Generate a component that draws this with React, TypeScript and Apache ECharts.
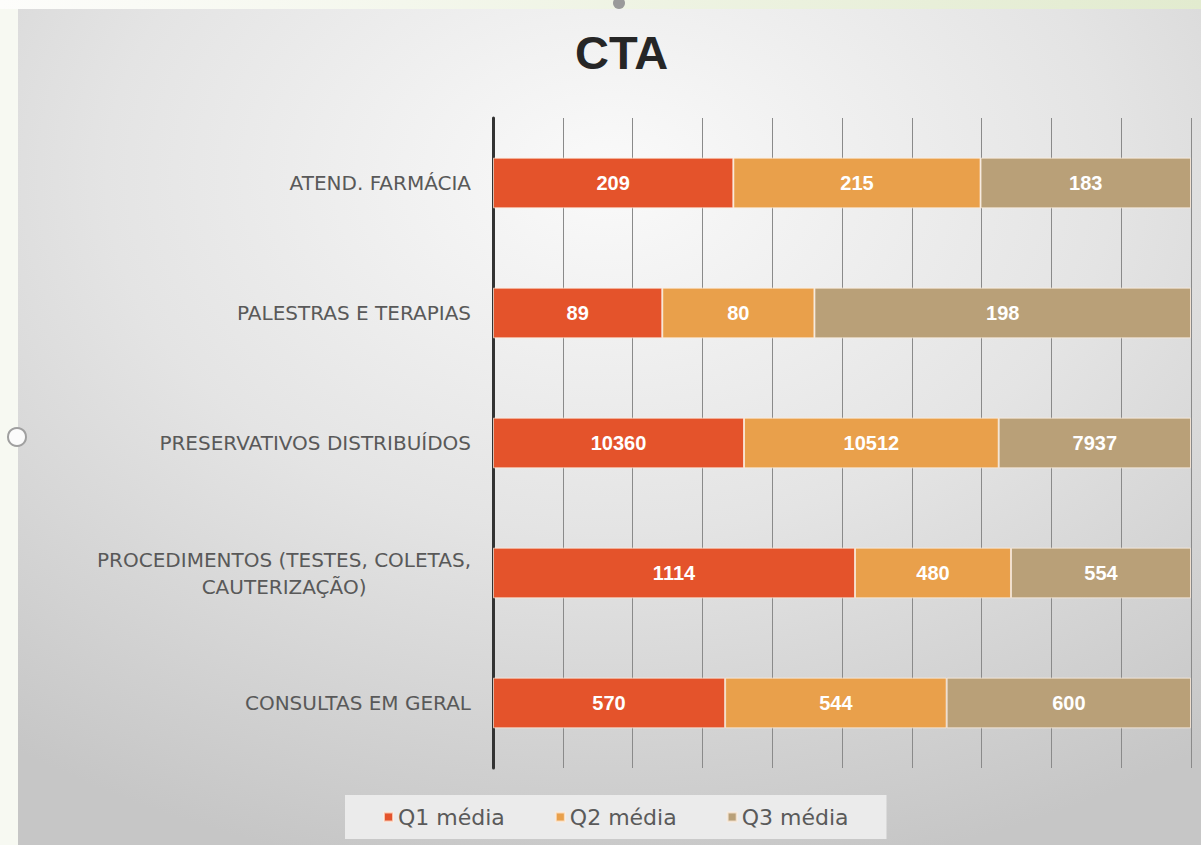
import React, { useEffect, useRef } from "react";
import * as echarts from "echarts";

const categories = [
  "CONSULTAS EM GERAL",
  "PROCEDIMENTOS (TESTES, COLETAS,\nCAUTERIZAÇÃO)",
  "PRESERVATIVOS DISTRIBUÍDOS",
  "PALESTRAS E TERAPIAS",
  "ATEND. FARMÁCIA",
];
const seriesNames = ["Q1 média", "Q2 média", "Q3 média"];
const q1 = [570, 1114, 10360, 89, 209];
const q2 = [544, 480, 10512, 80, 215];
const q3 = [600, 554, 7937, 198, 183];
const xTicks = [0, 10, 20, 30, 40, 50, 60, 70, 80, 90, 100];

const colors = ["#E4532B", "#E9A04B", "#B9A078"];
const FONT = "DejaVu Sans";

export default function App() {
  const ref = useRef<HTMLDivElement>(null);
  useEffect(() => {
    if (!ref.current) return;
    const chart = echarts.init(ref.current, undefined, { renderer: "svg" });
    const raw = [q1, q2, q3];
    const totals = categories.map((_, i) => q1[i] + q2[i] + q3[i]);
    const series = raw.map((arr, si) => ({
      name: seriesNames[si],
      type: "bar",
      stack: "total",
      barCategoryGap: "61%",
      itemStyle: {
        color: colors[si],
        borderColor: "rgba(255,240,225,0.7)",
        borderWidth: 1,
      },
      label: {
        show: true,
        position: "inside",
        color: "#ffffff",
        fontWeight: "bold",
        fontSize: 20,
        fontFamily: "Liberation Sans",
        formatter: (p: any) => String(arr[p.dataIndex]),
      },
      data: arr.map((v, i) => (v / totals[i]) * 100),
    }));

    chart.setOption({
      animation: false,
      backgroundColor: "#f7f9f2",
      graphic: [
        {
          type: "rect",
          z: -10,
          silent: true,
          shape: { x: 0, y: 0, width: 1201, height: 9 },
          style: {
            fill: new echarts.graphic.LinearGradient(0, 0, 1, 0, [
              { offset: 0, color: "#fdfdfb" },
              { offset: 1, color: "#e2ebcf" },
            ]),
          },
        },
        {
          type: "rect",
          z: -10,
          silent: true,
          shape: { x: 18, y: 9, width: 1183, height: 836 },
          style: {
            fill: new echarts.graphic.RadialGradient(0.5, 0.2, 0.85, [
              { offset: 0, color: "#fafafa" },
              { offset: 0.5, color: "#e4e4e4" },
              { offset: 1, color: "#c6c6c6" },
            ]),
          },
        },
        {
          type: "circle",
          z: -5,
          silent: true,
          shape: { cx: 619, cy: 3, r: 6 },
          style: { fill: "#9a9a9a" },
        },
        {
          type: "circle",
          z: -5,
          silent: true,
          shape: { cx: 17, cy: 437, r: 9 },
          style: { fill: "#fbfbfb", stroke: "#a0a0a0", lineWidth: 2 },
        },
      ],
      title: {
        text: "CTA",
        left: 570,
        top: 24,
        textStyle: {
          fontSize: 47,
          fontWeight: "bold",
          color: "#262626",
          fontFamily: "Liberation Sans",
        },
      },
      legend: {
        data: seriesNames,
        left: 345,
        top: 795,
        icon: "rect",
        itemWidth: 9,
        itemHeight: 9,
        itemGap: 50,
        padding: [11, 38, 11, 38],
        backgroundColor: "#ebebeb",
        textStyle: { fontSize: 22, color: "#5a5a5a", fontFamily: FONT },
      },
      grid: { left: 493, right: 10, top: 118, bottom: 77, containLabel: false },
      xAxis: {
        type: "value",
        min: xTicks[0],
        max: xTicks[xTicks.length - 1],
        interval: xTicks[1] - xTicks[0],
        axisLabel: { show: false },
        axisLine: { show: false },
        axisTick: { show: false },
        splitLine: { show: true, lineStyle: { color: "#8a8a8a", width: 1 } },
      },
      yAxis: {
        type: "category",
        data: categories,
        axisLine: { show: true, lineStyle: { color: "#333333", width: 3 } },
        axisTick: { show: false },
        axisLabel: {
          margin: 22,
          formatter: (v: string) =>
            v
              .split("\n")
              .map((l) => `{a|${l}}`)
              .join("\n"),
          rich: {
            a: {
              align: "center",
              fontSize: 20,
              color: "#595959",
              fontFamily: FONT,
              lineHeight: 27,
            },
          },
        },
      },
      series,
    });
    return () => chart.dispose();
  }, []);
  return (
    <div
      ref={ref}
      style={{ position: "fixed", left: 0, top: 0, width: 1201, height: 845 }}
    />
  );
}
